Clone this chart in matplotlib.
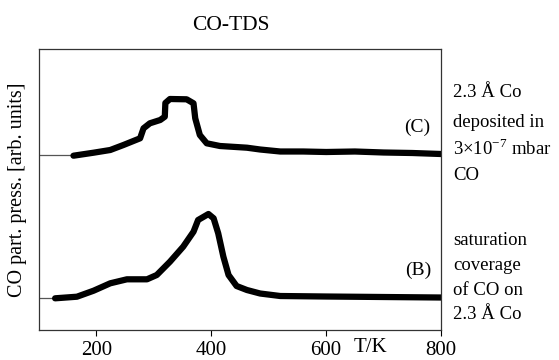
from matplotlib import pyplot as plt

plt.rcParams['font.family'] = 'Liberation Serif'
plt.rcParams['mathtext.fontset'] = 'custom'
plt.rcParams['mathtext.rm'] = 'Liberation Serif'

# curve (C): 2.3 A Co deposited in CO
temp_c = [160, 195, 224, 247, 276, 282, 293, 311, 319, 320, 328, 357, 369, 372, 380, 392, 415, 462, 485, 520, 560, 600, 650, 700, 750, 800]
sig_c = [174.3, 177.3, 180, 185, 191.7, 201.7, 206.7, 210, 213.3, 227, 231, 230.7, 226.7, 211.7, 195, 186.7, 184, 182.3, 180.5, 178.5, 178.5, 178, 178.5, 177.5, 177, 176]
base_c = 175

# curve (B): saturation coverage
temp_b = [128, 166, 195, 224, 253, 288, 305, 328, 351, 369, 377, 395, 404, 412, 421, 430, 444, 462, 485, 520, 600, 700, 800]
sig_b = [31.7, 33.3, 39.3, 46.7, 50.7, 50.7, 55, 68.3, 83.3, 98.3, 110, 116, 111.7, 96.7, 73.3, 55, 44, 40, 36.5, 34, 33.5, 33, 32.5]
base_b = 31.7

xticks = [200, 400, 600, 800]
xtick_labels = ['200', '400', '600', '800']

fig = plt.figure(figsize=(5.59, 3.6), dpi=100)
ax = fig.add_axes([0.0698, 0.0833, 0.7192, 0.7806])

ax.plot([100, temp_c[0]], [base_c, base_c], color='#555555', lw=0.9)
ax.plot([100, temp_b[0]], [base_b, base_b], color='#555555', lw=0.9)
ax.plot(temp_c, sig_c, color='black', lw=4.5, solid_capstyle='round', solid_joinstyle='round')
ax.plot(temp_b, sig_b, color='black', lw=4.5, solid_capstyle='round', solid_joinstyle='round')

ax.set_xlim(100, 800)
ax.set_ylim(0, 281)
ax.set_xticks(xticks)
ax.set_xticklabels(xtick_labels, fontsize=15)
ax.set_yticks([])
ax.tick_params(axis='x', direction='out', length=4, width=0.8, pad=4)
for s in ax.spines.values():
    s.set_linewidth(0.9)
    s.set_color('#333333')

ax.text(677, -8, 'T/K', fontsize=15, ha='center', va='top')
ax.set_ylabel('CO part. press. [arb. units]', fontsize=14.5, labelpad=9)
fig.text(0.413, 0.93, 'CO-TDS', fontsize=15.5, ha='center', va='center')

ax.text(758, 203, '(C)', fontsize=14, ha='center', va='center')
ax.text(760, 60, '(B)', fontsize=14, ha='center', va='center')

c_lines = ['2.3 Å Co', 'deposited in', '3×10$^{-7}$ mbar', 'CO']
c_y = [97, 127, 155, 180]
for t, y in zip(c_lines, c_y):
    fig.text(453 / 559, 1 - y / 360, t, fontsize=13.5, ha='left', va='baseline')

b_lines = ['saturation', 'coverage', 'of CO on', '2.3 Å Co']
b_y = [245, 270, 295, 319]
for t, y in zip(b_lines, b_y):
    fig.text(453 / 559, 1 - y / 360, t, fontsize=13.5, ha='left', va='baseline')

plt.savefig('out.png', dpi=100)
